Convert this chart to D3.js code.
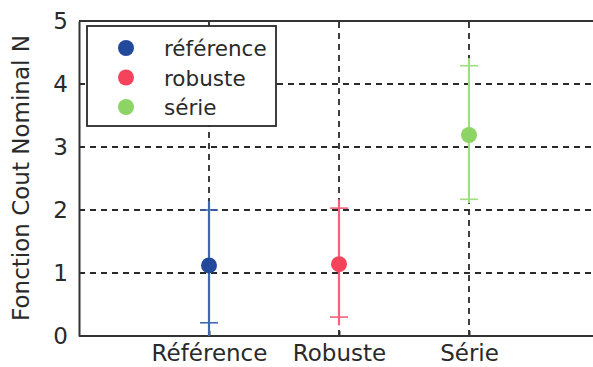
<!DOCTYPE html>
<html>
<head>
<meta charset="utf-8">
<script src="https://cdn.jsdelivr.net/npm/d3@7"></script>
<style>
  body { margin: 0; background: #fff; }
  svg { display: block; }
</style>
</head>
<body>
<div id="chart"></div>
<script>
// data
const categories = ['Référence', 'Robuste', 'Série']
const seriesNames = ['référence', 'robuste', 'série']
const meanValues = [1.12, 1.14, 3.19]
const capLow = [0.21, 0.30, 2.17]
const capHigh = [2.00, 2.03, 4.29]
const lineLow = [0.0, 0.17, 2.11]
const lineHigh = [2.14, 2.17, 4.41]
const yTicks = [0, 1, 2, 3, 4, 5]

const markerColors = ['#23499b', '#f4435a', '#8ed465']
const lineColors = ['#3f68b4', '#f5607a', '#9fe07e']

const W = 593, H = 367
const MARGIN = { top: 21, left: 79, bottom: 31 }
const innerH = H - MARGIN.top - MARGIN.bottom
const FONT = 'DejaVu Sans, Verdana, sans-serif'

const svg = d3.select('#chart').append('svg')
  .attr('width', W)
  .attr('height', H)

const x = d3.scaleLinear().domain([0, 4]).range([MARGIN.left, MARGIN.left + 520])
const y = d3.scaleLinear().domain([0, 5]).range([MARGIN.top + innerH, MARGIN.top])

const idx = categories.map((d, i) => i)

// grid
const grid = svg.append('g')
  .attr('stroke', '#2a2a2a')
  .attr('stroke-width', 1.8)
  .attr('stroke-dasharray', '6,5')
grid.selectAll('.hgrid')
  .data(yTicks.filter(t => t > 0 && t < 5))
  .enter().append('line')
  .attr('x1', MARGIN.left).attr('x2', W + 10)
  .attr('y1', d => y(d)).attr('y2', d => y(d))
grid.selectAll('.vgrid')
  .data(idx)
  .enter().append('line')
  .attr('x1', d => x(d + 1)).attr('x2', d => x(d + 1))
  .attr('y1', y(0)).attr('y2', y(5))

// axes frame
svg.append('line')
  .attr('x1', MARGIN.left).attr('x2', W + 10)
  .attr('y1', y(5)).attr('y2', y(5))
  .attr('stroke', '#333').attr('stroke-width', 2)

const yAxis = svg.append('g')
  .attr('transform', `translate(${MARGIN.left},0)`)
  .call(d3.axisLeft(y).tickValues(yTicks).tickSize(0).tickPadding(11).tickFormat(d3.format('d')))
yAxis.select('.domain').attr('stroke', '#333').attr('stroke-width', 2)
yAxis.selectAll('.tick text')
  .style('font-family', FONT).style('font-size', '23px').style('fill', '#2a2a2a')

const xAxis = svg.append('g')
  .attr('transform', `translate(0,${y(0)})`)
  .call(d3.axisBottom(x).tickValues([1, 2, 3]).tickSize(-5).tickPadding(9)
    .tickFormat(d => categories[d - 1]))
xAxis.select('.domain').remove()
xAxis.append('line')
  .attr('x1', MARGIN.left).attr('x2', W + 10)
  .attr('stroke', '#333').attr('stroke-width', 2)
xAxis.selectAll('.tick line').attr('stroke', '#333').attr('stroke-width', 2)
xAxis.selectAll('.tick text')
  .style('font-family', FONT).style('font-size', '23px').style('fill', '#2a2a2a')

// y label
svg.append('text')
  .attr('transform', `translate(29,178) rotate(-90)`)
  .attr('text-anchor', 'middle')
  .style('font-family', FONT).style('font-size', '23px').style('fill', '#2a2a2a')
  .text('Fonction Cout Nominal N')

// error bars
const bars = svg.selectAll('.bar')
  .data(idx)
  .enter().append('g')
  .attr('class', 'bar')
  .attr('stroke', d => lineColors[d])
  .attr('stroke-width', 2.2)
bars.append('line')
  .attr('x1', d => x(d + 1)).attr('x2', d => x(d + 1))
  .attr('y1', d => y(lineLow[d])).attr('y2', d => y(lineHigh[d]))
bars.append('line')
  .attr('x1', d => x(d + 1) - 9).attr('x2', d => x(d + 1) + 9)
  .attr('y1', d => y(capLow[d])).attr('y2', d => y(capLow[d]))
  .attr('stroke-width', 1.6)
bars.append('line')
  .attr('x1', d => x(d + 1) - 9).attr('x2', d => x(d + 1) + 9)
  .attr('y1', d => y(capHigh[d])).attr('y2', d => y(capHigh[d]))
  .attr('stroke-width', 1.6)
bars.append('circle')
  .attr('cx', d => x(d + 1)).attr('cy', d => y(meanValues[d]))
  .attr('r', 8)
  .attr('stroke', 'none')
  .attr('fill', d => markerColors[d])

// legend
const legend = svg.append('g').attr('transform', 'translate(87,26)')
legend.append('rect')
  .attr('width', 189).attr('height', 100)
  .attr('fill', '#fff').attr('stroke', '#2a2a2a').attr('stroke-width', 1.8)
const items = legend.selectAll('.item')
  .data(idx)
  .enter().append('g')
  .attr('transform', d => `translate(0,${22 + d * 29.5})`)
items.append('circle')
  .attr('cx', 39).attr('cy', 0).attr('r', 8)
  .attr('fill', d => markerColors[d])
items.append('text')
  .attr('x', 77).attr('y', 8)
  .style('font-family', FONT).style('font-size', '21.5px').style('fill', '#2a2a2a')
  .text(d => seriesNames[d])
</script>
</body>
</html>
